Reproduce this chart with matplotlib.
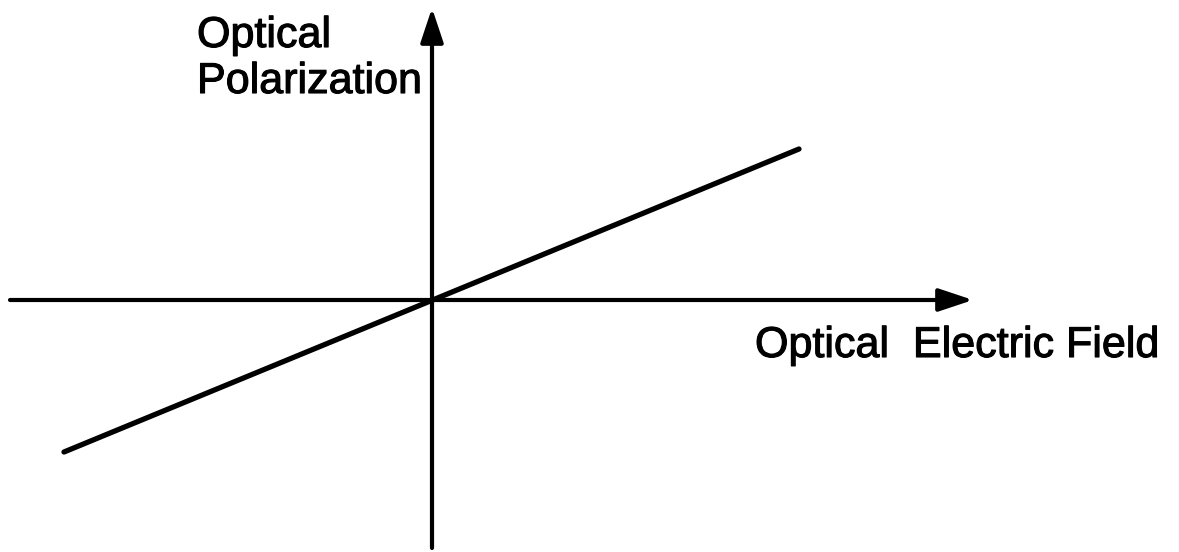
import matplotlib
matplotlib.use("Agg")
import matplotlib.pyplot as plt
import matplotlib.patheffects as pe

# linear response: polarization vs optical field (arbitrary units)
field = [-3.68, 3.67]
polarization = [-1.52, 1.51]

# axis extents (arbitrary units)
x_axis = [-4.22, 5.41]
y_axis = [-2.48, 2.92]

x_label = "Optical  Electric Field"
y_label = ["Optical", "Polarization"]

fig = plt.figure(figsize=(11.79, 5.52), dpi=100)
ax = fig.add_axes([0, 0, 1, 1])
ax.set_xlim(-4.32, 7.47)
ax.set_ylim(-2.52, 3.00)
ax.axis("off")

arrow = dict(arrowstyle="-|>,head_length=2.1,head_width=0.7", lw=3, color="black",
             shrinkA=0, shrinkB=0)
# horizontal axis
ax.annotate("", xy=(x_axis[1], 0), xytext=(x_axis[0], 0), arrowprops=arrow)
# vertical axis
ax.annotate("", xy=(0, y_axis[1]), xytext=(0, y_axis[0]), arrowprops=arrow)

ax.plot(field, polarization, color="black", lw=3.8, solid_capstyle="round")

# slightly thicker strokes to look like the stencil lettering
bold = [pe.withStroke(linewidth=0.8, foreground="black")]
font = dict(family="Liberation Sans", fontsize=31, color="black", path_effects=bold)
ax.text(-2.35, 2.53, y_label[0], ha="left", va="baseline", **font)
ax.text(-2.35, 2.07, y_label[1], ha="left", va="baseline", **font)
ax.text(3.23, -0.57, x_label, ha="left", va="baseline", **font)

fig.savefig("out.png", dpi=100)
